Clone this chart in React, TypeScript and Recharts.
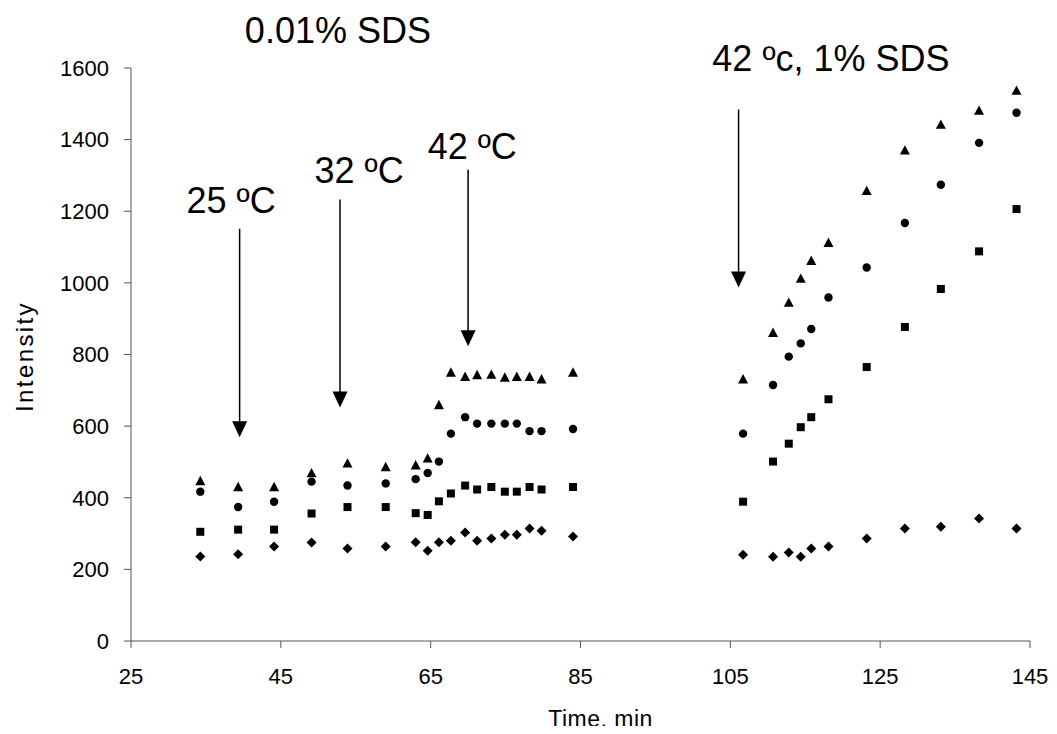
import React from 'react';
import {
  ScatterChart,
  Scatter,
  XAxis,
  YAxis,
  ReferenceLine,
  ReferenceDot,
} from 'recharts';

const FONT = '"Liberation Sans", Arial, sans-serif';

// sampling times, min
const times = [
  34.25, 39.3, 44.1, 49.1, 53.9, 59.0, 63.0, 64.6, 66.1, 67.7, 69.6, 71.2, 73.1, 74.9, 76.5, 78.2,
  79.8, 84.0, 106.7, 110.7, 112.8, 114.4, 115.8, 118.1, 123.2, 128.3, 133.1, 138.2, 143.2,
];

const triangleValues = [
  448, 431, 431, 470, 497, 487, 492, 511, 660, 751, 739, 744, 745, 737, 739, 739, 732, 751, 732,
  862, 946, 1013, 1063, 1113, 1258, 1371, 1443, 1482, 1538,
];
const circleValues = [
  417, 374, 389, 445, 434, 440, 452, 469, 501, 579, 625, 607, 607, 607, 607, 586, 586, 592, 579,
  715, 794, 831, 871, 959, 1043, 1167, 1274, 1391, 1475,
];
const squareValues = [
  305, 311, 311, 356, 374, 374, 357, 352, 390, 412, 434, 423, 430, 417, 417, 430, 423, 430, 389,
  501, 551, 597, 625, 675, 765, 877, 983, 1088, 1206,
];
const diamondValues = [
  236, 242, 264, 275, 258, 264, 276, 252, 276, 280, 303, 280, 286, 297, 297, 314, 308, 292, 241,
  235, 247, 235, 258, 264, 286, 314, 319, 342, 314,
];

const xTicks = [25, 45, 65, 85, 105, 125, 145];
const yTicks = [0, 200, 400, 600, 800, 1000, 1200, 1400, 1600];

// arrows: x position, start value, tip value
const arrows = [
  { x: 39.5, from: 1151, to: 569 },
  { x: 52.9, from: 1233, to: 652 },
  { x: 70.0, from: 1316, to: 823 },
  { x: 106.1, from: 1484, to: 987 },
];

// text notes, anchored at start / baseline
const notes = [
  { text: '0.01% SDS', x: 40.2, y: 1671 },
  { text: '25 ºC', x: 32.4, y: 1195 },
  { text: '32 ºC', x: 49.5, y: 1279 },
  { text: '42 ºC', x: 64.6, y: 1347 },
  { text: '42 ºc, 1% SDS', x: 102.6, y: 1591 },
];

const toPoints = (values: number[]) => times.map((t, i) => ({ x: t, y: values[i] }));

const TriangleMark = ({ cx, cy }: any) => (
  <polygon points={`${cx},${cy - 4.8} ${cx + 5},${cy + 4.6} ${cx - 5},${cy + 4.6}`} fill="#000" />
);
const CircleMark = ({ cx, cy }: any) => <circle cx={cx} cy={cy} r={4.2} fill="#000" />;
const SquareMark = ({ cx, cy }: any) => (
  <rect x={cx - 4} y={cy - 4} width={8} height={8} fill="#000" />
);
const DiamondMark = ({ cx, cy }: any) => (
  <polygon points={`${cx},${cy - 5} ${cx + 5},${cy} ${cx},${cy + 5} ${cx - 5},${cy}`} fill="#000" />
);

const ArrowShape = ({ x1, y1, x2, y2 }: any) => {
  const head = 16;
  return (
    <g>
      <line x1={x1} y1={y1} x2={x2} y2={y2 - head + 1} stroke="#000" strokeWidth={1.5} />
      <polygon
        points={`${x2 - 7.5},${y2 - head} ${x2 + 7.5},${y2 - head} ${x2},${y2}`}
        fill="#000"
      />
    </g>
  );
};

const XTitle = (props: any) => {
  const vb = props.viewBox || { x: 131, width: 899 };
  return (
    <text
      x={vb.x + vb.width / 2 + 20}
      y={727}
      textAnchor="middle"
      fontSize={23}
      letterSpacing={0.5}
      fontFamily={FONT}
      fill="#000"
    >
      Time, min
    </text>
  );
};

const YTitle = (props: any) => {
  const vb = props.viewBox || { y: 68, height: 573 };
  const cy = vb.y + vb.height / 2 + 2;
  return (
    <text
      transform={`translate(33, ${cy}) rotate(-90)`}
      textAnchor="middle"
      fontSize={24}
      letterSpacing={2.4}
      fontFamily={FONT}
      fill="#000"
    >
      Intensity
    </text>
  );
};

const tickStyle = { fill: '#000', fontSize: 22, fontFamily: FONT };

const App = () => {
  return (
    <div style={{ margin: -8, width: 1057, height: 734, background: '#fff' }}>
      <ScatterChart
        width={1057}
        height={734}
        margin={{ top: 68, right: 27, bottom: 0, left: 0 }}
      >
        <XAxis
          type="number"
          dataKey="x"
          domain={[25, 145]}
          ticks={xTicks}
          height={93}
          tick={tickStyle}
          tickSize={7}
          tickMargin={20}
          axisLine={{ stroke: '#555' }}
          tickLine={{ stroke: '#555' }}
          label={<XTitle />}
        />
        <YAxis
          type="number"
          dataKey="y"
          domain={[0, 1600]}
          ticks={yTicks}
          width={131}
          tick={tickStyle}
          tickSize={7}
          tickMargin={15}
          axisLine={{ stroke: '#555' }}
          tickLine={{ stroke: '#555' }}
          label={<YTitle />}
        />
        <Scatter data={toPoints(triangleValues)} shape={<TriangleMark />} isAnimationActive={false} />
        <Scatter data={toPoints(circleValues)} shape={<CircleMark />} isAnimationActive={false} />
        <Scatter data={toPoints(squareValues)} shape={<SquareMark />} isAnimationActive={false} />
        <Scatter data={toPoints(diamondValues)} shape={<DiamondMark />} isAnimationActive={false} />
        {arrows.map((a, i) => (
          <ReferenceLine
            key={'arrow' + i}
            segment={[
              { x: a.x, y: a.from },
              { x: a.x, y: a.to },
            ]}
            ifOverflow="visible"
            shape={(p: any) => <ArrowShape {...p} />}
          />
        ))}
        {notes.map((n, i) => (
          <ReferenceDot
            key={'note' + i}
            x={n.x}
            y={n.y}
            ifOverflow="visible"
            shape={(p: any) => (
              <text x={p.cx} y={p.cy} fontSize={36} fontFamily={FONT} fill="#000">
                {n.text}
              </text>
            )}
          />
        ))}
      </ScatterChart>
    </div>
  );
};

export default App;
